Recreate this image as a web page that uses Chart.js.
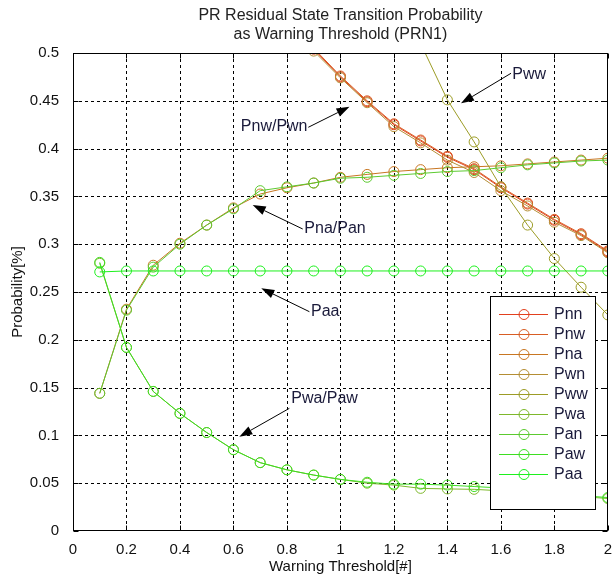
<!DOCTYPE html>
<html>
<head>
<meta charset="utf-8">
<script src="https://cdn.jsdelivr.net/npm/chart.js@4.4.1/dist/chart.umd.min.js"></script>
<style>
  html, body { margin: 0; padding: 0; background: #fff; }
</style>
</head>
<body>
<canvas id="chart" width="614" height="579"></canvas>
<script>
// warning threshold on the x axis
const thresholds = [0.1, 0.2, 0.3, 0.4, 0.5, 0.6, 0.7, 0.8, 0.9, 1.0,
                    1.1, 1.2, 1.3, 1.4, 1.5, 1.6, 1.7, 1.8, 1.9, 2.0];

// values (the ones above 0.5 are out of view)
const Pnn = [0.86, 0.80, 0.75, 0.70, 0.66, 0.62, 0.58, 0.54, 0.504, 0.475,
             0.449, 0.425, 0.408, 0.391, 0.378, 0.359, 0.342, 0.325, 0.310, 0.292];
const Pnw = [0.86, 0.80, 0.75, 0.70, 0.66, 0.62, 0.58, 0.54, 0.505, 0.476,
             0.450, 0.426, 0.409, 0.392, 0.379, 0.360, 0.343, 0.326, 0.311, 0.293];
const Pna = [0.144, 0.232, 0.278, 0.301, 0.320, 0.338, 0.3525, 0.359, 0.364, 0.370,
             0.373, 0.376, 0.378, 0.380, 0.381, 0.382, 0.384, 0.386, 0.388, 0.390];
const Pwn = [0.85, 0.79, 0.74, 0.69, 0.65, 0.61, 0.57, 0.535, 0.502, 0.474,
             0.448, 0.423, 0.406, 0.388, 0.375, 0.356, 0.340, 0.323, 0.309, 0.291];
const Pww = [0.95, 0.93, 0.91, 0.88, 0.85, 0.82, 0.79, 0.76, 0.72, 0.68,
             0.63, 0.57, 0.51, 0.451, 0.407, 0.360, 0.320, 0.285, 0.255, 0.226];
const Pwa = [0.280, 0.192, 0.146, 0.123, 0.103, 0.085, 0.0715, 0.064, 0.0585, 0.054,
             0.050, 0.048, 0.0446, 0.044, 0.0436, 0.042, 0.040, 0.038, 0.036, 0.034];
const Pan = [0.144, 0.231, 0.276, 0.300, 0.320, 0.337, 0.356, 0.360, 0.364, 0.369,
             0.370, 0.372, 0.374, 0.376, 0.377, 0.380, 0.383, 0.385, 0.387, 0.388];
const Paw = [0.281, 0.192, 0.146, 0.123, 0.103, 0.085, 0.0715, 0.064, 0.0585, 0.054,
             0.051, 0.049, 0.049, 0.048, 0.0465, 0.045, 0.043, 0.040, 0.037, 0.035];
const Paa = [0.271, 0.272, 0.272, 0.272, 0.272, 0.272, 0.272, 0.272, 0.272, 0.272,
             0.272, 0.272, 0.272, 0.272, 0.272, 0.272, 0.272, 0.272, 0.272, 0.272];

const seriesNames = ['Pnn', 'Pnw', 'Pna', 'Pwn', 'Pww', 'Pwa', 'Pan', 'Paw', 'Paa'];
const seriesValues = [Pnn, Pnw, Pna, Pwn, Pww, Pwa, Pan, Paw, Paa];
const seriesColors = ['#e2401e', '#d85d24', '#c87622', '#b48e34', '#9c9c26',
                      '#7eb82c', '#5cca30', '#3ede22', '#1ef01e'];

const xTicks = [0, 0.2, 0.4, 0.6, 0.8, 1, 1.2, 1.4, 1.6, 1.8, 2];
const yTicks = [0, 0.05, 0.1, 0.15, 0.2, 0.25, 0.3, 0.35, 0.4, 0.45, 0.5];

const titleLines = ['PR Residual State Transition Probability', 'as Warning Threshold (PRN1)'];

// text callouts: label anchor (lx, ly), arrow tail (tx, ty) and tip (hx, hy), in data units
const callouts = [
  { text: 'Pww',     lx: 1.643, ly: 0.477, tx: 1.638, ty: 0.4788, hx: 1.451, hy: 0.4474, align: 'left' },
  { text: 'Pnw/Pwn', lx: 0.877, ly: 0.4226, tx: 0.880, ty: 0.4223, hx: 1.034, hy: 0.4438, align: 'right' },
  { text: 'Pna/Pan', lx: 0.865, ly: 0.3165, tx: 0.859, ty: 0.3159, hx: 0.672, hy: 0.341, align: 'left' },
  { text: 'Paa',     lx: 0.890, ly: 0.2290, tx: 0.884, ty: 0.2294, hx: 0.704, hy: 0.2539, align: 'left' },
  { text: 'Pwa/Paw', lx: 0.816, ly: 0.1390, tx: 0.809, ty: 0.1283, hx: 0.622, hy: 0.0986, align: 'left' }
];

const FONT = '"Liberation Sans", Arial, sans-serif';

const datasets = seriesNames.map((name, i) => ({
  label: name,
  data: thresholds.map((x, j) => ({ x: x, y: seriesValues[i][j] })),
  borderColor: seriesColors[i],
  backgroundColor: 'rgba(0,0,0,0)',
  pointBorderColor: seriesColors[i],
  pointBackgroundColor: 'rgba(0,0,0,0)',
  borderWidth: 1,
  pointRadius: 5,
  pointBorderWidth: 1,
  tension: 0,
  order: 9 - i
}));

// dashed grid, box and inward ticks, like the original figure
const frame = {
  id: 'frame',
  beforeDatasetsDraw(chart) {
    const { ctx, chartArea: a, scales: { x, y } } = chart;
    ctx.save();
    ctx.strokeStyle = '#000';
    ctx.lineWidth = 1;
    ctx.setLineDash([3, 3]);
    xTicks.forEach(v => {
      if (v === 0 || v === 2) return;
      const px = Math.round(x.getPixelForValue(v)) + 0.5;
      ctx.beginPath(); ctx.moveTo(px, a.top); ctx.lineTo(px, a.bottom); ctx.stroke();
    });
    yTicks.forEach(v => {
      if (v === 0 || v === 0.5) return;
      const py = Math.round(y.getPixelForValue(v)) + 0.5;
      ctx.beginPath(); ctx.moveTo(a.left, py); ctx.lineTo(a.right, py); ctx.stroke();
    });
    ctx.restore();
  },
  afterDatasetsDraw(chart) {
    const { ctx, chartArea: a, scales: { x, y } } = chart;
    ctx.save();
    ctx.strokeStyle = '#000';
    ctx.lineWidth = 1;
    const L = Math.round(a.left) + 0.5, R = Math.round(a.right) - 0.5;
    const T = Math.round(a.top) + 0.5, B = Math.round(a.bottom) - 0.5;
    ctx.strokeRect(L, T, R - L, B - T);
    const tl = 5;
    xTicks.forEach(v => {
      const px = Math.round(x.getPixelForValue(v)) + 0.5;
      ctx.beginPath();
      ctx.moveTo(px, B); ctx.lineTo(px, B - tl);
      ctx.moveTo(px, T); ctx.lineTo(px, T + tl);
      ctx.stroke();
    });
    yTicks.forEach(v => {
      const py = Math.round(y.getPixelForValue(v)) + 0.5;
      ctx.beginPath();
      ctx.moveTo(L, py); ctx.lineTo(L + tl, py);
      ctx.moveTo(R, py); ctx.lineTo(R - tl, py);
      ctx.stroke();
    });

    // callouts
    ctx.font = '16px ' + FONT;
    ctx.textBaseline = 'middle';
    callouts.forEach(c => {
      const lx = x.getPixelForValue(c.lx), ly = y.getPixelForValue(c.ly);
      ctx.fillStyle = '#1a1a3a';
      ctx.textAlign = c.align;
      ctx.fillText(c.text, lx, ly);
      const tx = x.getPixelForValue(c.tx), ty = y.getPixelForValue(c.ty);
      const hx = x.getPixelForValue(c.hx), hy = y.getPixelForValue(c.hy);
      const ang = Math.atan2(hy - ty, hx - tx);
      const len = 13, half = 4.5;
      const bx = hx - len * Math.cos(ang), by = hy - len * Math.sin(ang);
      ctx.strokeStyle = '#000';
      ctx.beginPath(); ctx.moveTo(tx, ty); ctx.lineTo(bx, by); ctx.stroke();
      ctx.fillStyle = '#000';
      ctx.beginPath();
      ctx.moveTo(hx, hy);
      ctx.lineTo(bx + half * Math.sin(ang), by - half * Math.cos(ang));
      ctx.lineTo(bx - half * Math.sin(ang), by + half * Math.cos(ang));
      ctx.closePath(); ctx.fill();
    });
    ctx.restore();
  },
  afterDraw(chart) {
    const { ctx, chartArea: a } = chart;
    ctx.save();
    // title
    ctx.font = '16px ' + FONT;
    ctx.fillStyle = '#222';
    ctx.textAlign = 'center';
    ctx.textBaseline = 'middle';
    const cx = (a.left + a.right) / 2;
    ctx.fillText(titleLines[0], cx, 16);
    ctx.fillText(titleLines[1], cx, 35);

    // legend box
    const bx = 490, by = 296, bw = 105, bh = 213;
    ctx.fillStyle = '#fff';
    ctx.fillRect(bx, by, bw, bh);
    ctx.strokeStyle = '#000';
    ctx.lineWidth = 1;
    ctx.strokeRect(bx + 0.5, by + 0.5, bw, bh);
    ctx.font = '16px ' + FONT;
    ctx.textAlign = 'left';
    chart.data.datasets.forEach((ds, i) => {
      const yy = by + 18 + i * 20;
      ctx.strokeStyle = ds.borderColor;
      ctx.beginPath(); ctx.moveTo(bx + 9, yy + 0.5); ctx.lineTo(bx + 58, yy + 0.5); ctx.stroke();
      ctx.beginPath(); ctx.arc(bx + 34, yy + 0.5, 5, 0, Math.PI * 2); ctx.stroke();
      ctx.fillStyle = '#1a1a3a';
      ctx.fillText(ds.label, bx + 64, yy + 1);
    });
    ctx.restore();
  }
};

new Chart(document.getElementById('chart'), {
  type: 'line',
  data: { datasets: datasets },
  options: {
    responsive: false,
    animation: false,
    layout: { padding: { top: 53, right: 5, left: 0, bottom: 0 } },
    plugins: { legend: { display: false }, tooltip: { enabled: false }, title: { display: false } },
    scales: {
      x: {
        type: 'linear', min: 0, max: 2,
        afterBuildTicks: s => { s.ticks = xTicks.map(v => ({ value: v })); },
        afterFit: s => { s.height = 48; },
        grid: { display: false },
        border: { display: false },
        ticks: {
          color: '#111', padding: 2,
          font: { family: FONT, size: 15 },
          callback: v => String(+v.toFixed(1))
        },
        title: { display: true, text: 'Warning Threshold[#]', color: '#111',
                 font: { family: FONT, size: 15 }, padding: { top: 0, bottom: 3 } }
      },
      y: {
        min: 0, max: 0.5,
        afterBuildTicks: s => { s.ticks = yTicks.map(v => ({ value: v })); },
        afterFit: s => { s.width = 73; },
        grid: { display: false },
        border: { display: false },
        ticks: {
          color: '#111', padding: 6,
          font: { family: FONT, size: 15 },
          callback: v => String(+v.toFixed(2))
        },
        title: { display: true, text: 'Probability[%]', color: '#111',
                 font: { family: FONT, size: 15 }, padding: { top: 9, bottom: 0 } }
      }
    }
  },
  plugins: [frame]
});
</script>
</body>
</html>
